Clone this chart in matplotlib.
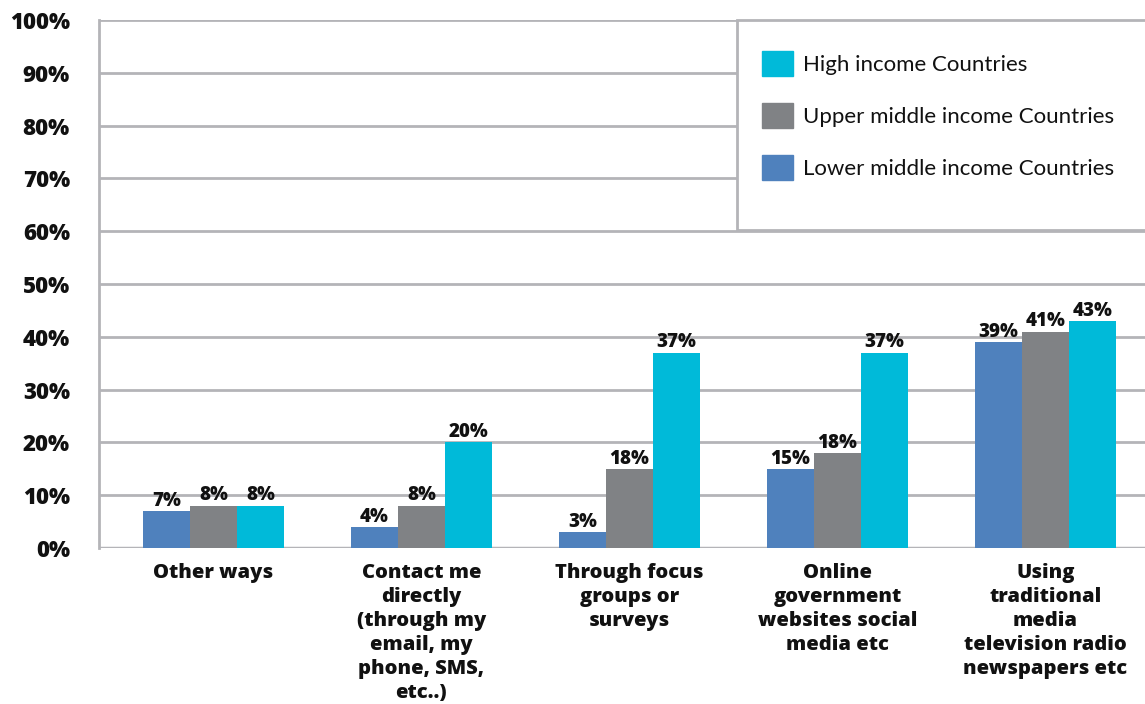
import matplotlib
matplotlib.use("Agg")
import matplotlib.pyplot as plt
from matplotlib.patches import Rectangle, Patch
import numpy as np

categories = ["Other ways",
              "Contact me\ndirectly\n(through my\nemail, my\nphone, SMS,\netc..)",
              "Through focus\ngroups or\nsurveys",
              "Online\ngovernment\nwebsites social\nmedia etc",
              "Using\ntraditional\nmedia\ntelevision radio\nnewspapers etc"]
series_names = ["Lower middle income Countries", "Upper middle income Countries", "High income Countries"]
lower_vals = [7, 4, 3, 15, 39]
upper_vals = [8, 8, 15, 18, 41]
high_vals = [8, 20, 37, 37, 43]
lower_labels = ["7%", "4%", "3%", "15%", "39%"]
upper_labels = ["8%", "8%", "18%", "18%", "41%"]
high_labels = ["8%", "20%", "37%", "37%", "43%"]
yticks = [0, 10, 20, 30, 40, 50, 60, 70, 80, 90, 100]

colors = ["#4F81BD", "#808285", "#00BAD9"]
grid_c = "#b4b4b8"

plt.rcParams['font.family'] = ['Open Sans', 'DejaVu Sans']

fig = plt.figure(figsize=(11.45, 7.04), dpi=100)
ax = fig.add_axes([99/1145, 1-548/704, 1-99/1145, 528/704])

x = np.arange(len(categories))
w = 0.226
series = [(lower_vals, lower_labels), (upper_vals, upper_labels), (high_vals, high_labels)]
for i, (vals, labs) in enumerate(series):
    ax.bar(x + (i-1)*w, vals, width=w, color=colors[i], zorder=3, linewidth=0)
    for xi, v, lab in zip(x + (i-1)*w, vals, labs):
        ax.text(xi, v + 0.05, lab, ha='center', va='bottom', fontsize=13.5,
                fontweight='heavy', color='#111111', zorder=4)

ax.set_ylim(0, 100)
ax.set_xlim(-0.55, (1145-213.5)/208)
ax.set_yticks(yticks)
ax.set_yticklabels([f"{t}%" for t in yticks], fontsize=16, fontweight='heavy', color='#111111')
ax.set_xticks(x)
ax.set_xticklabels(categories, fontsize=14.5, fontweight='heavy', color='#111111', linespacing=1.26)
ax.tick_params(axis='both', length=0)
ax.tick_params(axis='y', pad=21)
ax.tick_params(axis='x', pad=11)
ax.grid(axis='y', color=grid_c, linewidth=2, zorder=0)
for s in ['top', 'right', 'bottom']:
    ax.spines[s].set_visible(False)
ax.spines['left'].set_color(grid_c)
ax.spines['left'].set_linewidth(2)
ax.axhline(0, color=grid_c, linewidth=2.5, zorder=2)

# legend box
rect = Rectangle((737/1145, 1-230/704), 0.5, 210/704, transform=fig.transFigure,
                 facecolor='white', edgecolor=grid_c, linewidth=2, zorder=5, clip_on=False)
fig.patches.append(rect)
handles = [Patch(color=colors[2]), Patch(color=colors[1]), Patch(color=colors[0])]
labels = [series_names[2], series_names[1], series_names[0]]
leg = fig.legend(handles, labels, loc='upper left', bbox_to_anchor=(742/1145, 1-31/704),
                 frameon=False, prop={'family': ['Lato', 'DejaVu Sans'], 'size': 16},
                 handlelength=1.38, handleheight=1.38,
                 labelspacing=1.2, handletextpad=0.45)
for t in leg.get_texts():
    t.set_color('#111111')

fig.savefig("out.png", dpi=100)
